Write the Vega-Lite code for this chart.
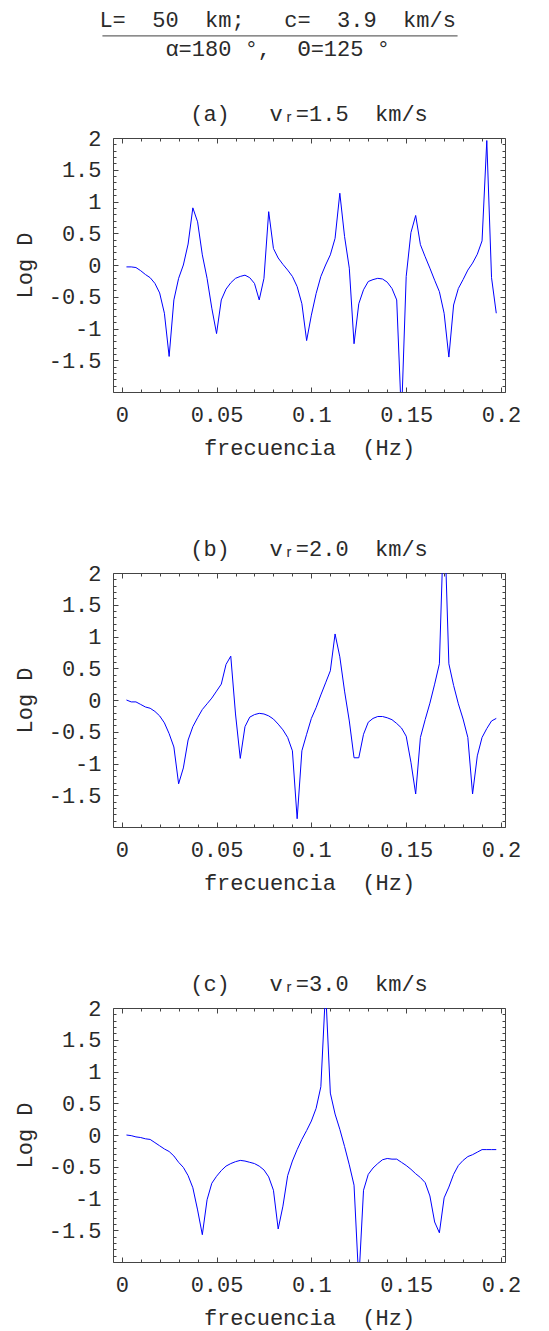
{
  "$schema": "https://vega.github.io/schema/vega-lite/v6.json",
  "background": "white",
  "padding": {"left": 12, "top": 0, "right": 0, "bottom": 2},
  "config": {
    "view": {"stroke": "#444", "strokeWidth": 1},
    "font": "Liberation Mono",
    "axis": {"labelFont": "Liberation Mono", "labelFontSize": 22, "labelColor": "#2a2a2a", "titleFont": "Liberation Mono", "titleFontSize": 22, "titleFontWeight": "normal", "titleColor": "#2a2a2a", "tickColor": "#444", "tickWidth": 1, "domain": false, "grid": false, "labelOverlap": false, "labelBound": false, "labelFlush": false},
    "title": {"font": "Liberation Mono", "fontSize": 22, "fontWeight": "normal", "color": "#2a2a2a", "offset": 1, "anchor": "middle"}
  },
  "datasets": {
    "a": [
      {"f":0.0025,"d":-0.03},{"f":0.005,"d":-0.03},{"f":0.0075,"d":-0.04},{"f":0.01,"d":-0.09},{"f":0.0125,"d":-0.15},{"f":0.015,"d":-0.2},{"f":0.0175,"d":-0.29},{"f":0.02,"d":-0.44},{"f":0.0225,"d":-0.76},{"f":0.025,"d":-1.44},
      {"f":0.0275,"d":-0.55},{"f":0.03,"d":-0.21},{"f":0.0325,"d":0.0},{"f":0.035,"d":0.33},{"f":0.0375,"d":0.9},{"f":0.04,"d":0.68},{"f":0.0425,"d":0.16},{"f":0.045,"d":-0.21},{"f":0.0475,"d":-0.68},{"f":0.05,"d":-1.08},
      {"f":0.0525,"d":-0.55},{"f":0.055,"d":-0.38},{"f":0.0575,"d":-0.28},{"f":0.06,"d":-0.21},{"f":0.0625,"d":-0.18},{"f":0.065,"d":-0.16},{"f":0.0675,"d":-0.2},{"f":0.07,"d":-0.29},{"f":0.0725,"d":-0.55},{"f":0.075,"d":-0.21},
      {"f":0.0775,"d":0.84},{"f":0.08,"d":0.26},{"f":0.0825,"d":0.11},{"f":0.085,"d":0.01},{"f":0.0875,"d":-0.08},{"f":0.09,"d":-0.18},{"f":0.0925,"d":-0.34},{"f":0.095,"d":-0.61},{"f":0.0975,"d":-1.19},{"f":0.1,"d":-0.79},
      {"f":0.1025,"d":-0.45},{"f":0.105,"d":-0.18},{"f":0.1075,"d":0.0},{"f":0.11,"d":0.16},{"f":0.1125,"d":0.42},{"f":0.115,"d":1.13},{"f":0.1175,"d":0.45},{"f":0.12,"d":-0.05},{"f":0.1225,"d":-1.24},{"f":0.125,"d":-0.61},
      {"f":0.1275,"d":-0.39},{"f":0.13,"d":-0.26},{"f":0.1325,"d":-0.23},{"f":0.135,"d":-0.21},{"f":0.1375,"d":-0.22},{"f":0.14,"d":-0.27},{"f":0.1425,"d":-0.37},{"f":0.145,"d":-0.55},{"f":0.1475,"d":-2.4},{"f":0.15,"d":-0.18},
      {"f":0.1525,"d":0.51},{"f":0.155,"d":0.78},{"f":0.1575,"d":0.32},{"f":0.16,"d":0.13},{"f":0.1625,"d":-0.05},{"f":0.165,"d":-0.24},{"f":0.1675,"d":-0.42},{"f":0.17,"d":-0.76},{"f":0.1725,"d":-1.45},{"f":0.175,"d":-0.63},
      {"f":0.1775,"d":-0.37},{"f":0.18,"d":-0.23},{"f":0.1825,"d":-0.08},{"f":0.185,"d":0.03},{"f":0.1875,"d":0.17},{"f":0.19,"d":0.38},{"f":0.1925,"d":1.96},{"f":0.195,"d":-0.2},{"f":0.1975,"d":-0.76}
    ],
    "b": [
      {"f":0.0025,"d":0.0},{"f":0.005,"d":-0.03},{"f":0.0075,"d":-0.03},{"f":0.01,"d":-0.07},{"f":0.0125,"d":-0.11},{"f":0.015,"d":-0.13},{"f":0.0175,"d":-0.18},{"f":0.02,"d":-0.25},{"f":0.0225,"d":-0.36},{"f":0.025,"d":-0.53},
      {"f":0.0275,"d":-0.74},{"f":0.03,"d":-1.32},{"f":0.0325,"d":-1.07},{"f":0.035,"d":-0.63},{"f":0.0375,"d":-0.42},{"f":0.04,"d":-0.28},{"f":0.0425,"d":-0.15},{"f":0.045,"d":-0.06},{"f":0.0475,"d":0.03},{"f":0.05,"d":0.14},
      {"f":0.0525,"d":0.25},{"f":0.055,"d":0.56},{"f":0.0575,"d":0.69},{"f":0.06,"d":-0.22},{"f":0.0625,"d":-0.92},{"f":0.065,"d":-0.42},{"f":0.0675,"d":-0.27},{"f":0.07,"d":-0.23},{"f":0.0725,"d":-0.21},{"f":0.075,"d":-0.22},
      {"f":0.0775,"d":-0.25},{"f":0.08,"d":-0.3},{"f":0.0825,"d":-0.38},{"f":0.085,"d":-0.47},{"f":0.0875,"d":-0.59},{"f":0.09,"d":-0.8},{"f":0.0925,"d":-1.87},{"f":0.095,"d":-0.8},{"f":0.0975,"d":-0.54},{"f":0.1,"d":-0.29},
      {"f":0.1025,"d":-0.12},{"f":0.105,"d":0.08},{"f":0.1075,"d":0.27},{"f":0.11,"d":0.46},{"f":0.1125,"d":1.04},{"f":0.115,"d":0.68},{"f":0.1175,"d":0.14},{"f":0.12,"d":-0.33},{"f":0.1225,"d":-0.91},{"f":0.125,"d":-0.91},
      {"f":0.1275,"d":-0.54},{"f":0.13,"d":-0.35},{"f":0.1325,"d":-0.29},{"f":0.135,"d":-0.26},{"f":0.1375,"d":-0.26},{"f":0.14,"d":-0.28},{"f":0.1425,"d":-0.31},{"f":0.145,"d":-0.37},{"f":0.1475,"d":-0.44},{"f":0.15,"d":-0.57},
      {"f":0.1525,"d":-0.98},{"f":0.155,"d":-1.48},{"f":0.1575,"d":-0.59},{"f":0.16,"d":-0.31},{"f":0.1625,"d":-0.05},{"f":0.165,"d":0.25},{"f":0.1675,"d":0.57},{"f":0.17,"d":3.0},{"f":0.1725,"d":0.57},{"f":0.175,"d":0.23},
      {"f":0.1775,"d":-0.06},{"f":0.18,"d":-0.3},{"f":0.1825,"d":-0.59},{"f":0.185,"d":-1.48},{"f":0.1875,"d":-0.88},{"f":0.19,"d":-0.59},{"f":0.1925,"d":-0.45},{"f":0.195,"d":-0.33},{"f":0.1975,"d":-0.29}
    ],
    "c": [
      {"f":0.0025,"d":0.0},{"f":0.005,"d":-0.01},{"f":0.0075,"d":-0.03},{"f":0.01,"d":-0.04},{"f":0.0125,"d":-0.06},{"f":0.015,"d":-0.07},{"f":0.0175,"d":-0.12},{"f":0.02,"d":-0.17},{"f":0.0225,"d":-0.22},{"f":0.025,"d":-0.26},
      {"f":0.0275,"d":-0.33},{"f":0.03,"d":-0.43},{"f":0.0325,"d":-0.51},{"f":0.035,"d":-0.64},{"f":0.0375,"d":-0.83},{"f":0.04,"d":-1.18},{"f":0.0425,"d":-1.57},{"f":0.045,"d":-1.02},{"f":0.0475,"d":-0.76},{"f":0.05,"d":-0.65},
      {"f":0.0525,"d":-0.56},{"f":0.055,"d":-0.49},{"f":0.0575,"d":-0.45},{"f":0.06,"d":-0.42},{"f":0.0625,"d":-0.4},{"f":0.065,"d":-0.41},{"f":0.0675,"d":-0.43},{"f":0.07,"d":-0.45},{"f":0.0725,"d":-0.49},{"f":0.075,"d":-0.55},
      {"f":0.0775,"d":-0.66},{"f":0.08,"d":-0.87},{"f":0.0825,"d":-1.48},{"f":0.085,"d":-1.12},{"f":0.0875,"d":-0.64},{"f":0.09,"d":-0.41},{"f":0.0925,"d":-0.23},{"f":0.095,"d":-0.07},{"f":0.0975,"d":0.07},{"f":0.1,"d":0.22},
      {"f":0.1025,"d":0.42},{"f":0.105,"d":0.76},{"f":0.1075,"d":2.3},{"f":0.11,"d":0.66},{"f":0.1125,"d":0.33},{"f":0.115,"d":0.09},{"f":0.1175,"d":-0.18},{"f":0.12,"d":-0.47},{"f":0.1225,"d":-0.79},{"f":0.125,"d":-2.3},
      {"f":0.1275,"d":-0.87},{"f":0.13,"d":-0.62},{"f":0.1325,"d":-0.52},{"f":0.135,"d":-0.45},{"f":0.1375,"d":-0.39},{"f":0.14,"d":-0.37},{"f":0.1425,"d":-0.38},{"f":0.145,"d":-0.38},{"f":0.1475,"d":-0.43},{"f":0.15,"d":-0.48},
      {"f":0.1525,"d":-0.54},{"f":0.155,"d":-0.61},{"f":0.1575,"d":-0.67},{"f":0.16,"d":-0.75},{"f":0.1625,"d":-0.96},{"f":0.165,"d":-1.37},{"f":0.1675,"d":-1.54},{"f":0.17,"d":-0.99},{"f":0.1725,"d":-0.82},{"f":0.175,"d":-0.62},
      {"f":0.1775,"d":-0.48},{"f":0.18,"d":-0.4},{"f":0.1825,"d":-0.34},{"f":0.185,"d":-0.31},{"f":0.1875,"d":-0.27},{"f":0.19,"d":-0.23},{"f":0.1925,"d":-0.23},{"f":0.195,"d":-0.23},{"f":0.1975,"d":-0.23}
    ]
  },
  "spacing": 40,
  "vconcat": [
    {
      "width": 392, "height": 62,
      "data": {"values": [{}]},
      "view": {"stroke": null},
      "layer": [
        {"mark": {"type": "text", "font": "Liberation Mono", "fontSize": 22, "baseline": "alphabetic", "align": "center", "color": "#2a2a2a", "text": "L=\u00a0\u00a050\u00a0\u00a0km;\u00a0\u00a0\u00a0c=\u00a0\u00a03.9\u00a0\u00a0km/s"},
         "encoding": {"x": {"datum": 0.42, "type": "quantitative", "scale": {"domain": [0, 1]}, "axis": null}, "y": {"datum": 0.565, "type": "quantitative", "scale": {"domain": [0, 1]}, "axis": null}}},
        {"mark": {"type": "text", "font": "Liberation Mono", "fontSize": 22, "baseline": "alphabetic", "align": "center", "color": "#2a2a2a", "text": "α=180\u00a0°,\u00a0\u00a0Θ=125\u00a0°"},
         "encoding": {"x": {"datum": 0.42, "type": "quantitative"}, "y": {"datum": 0.097, "type": "quantitative"}}},
        {"mark": {"type": "rule", "color": "#666", "strokeWidth": 1.2},
         "encoding": {"x": {"datum": -0.027, "type": "quantitative"}, "x2": {"datum": 0.879}, "y": {"datum": 0.42, "type": "quantitative"}}}
      ]
    },
    {
      "spacing": 78,
      "vconcat": [
        {
          "width": 392, "height": 254,
          "title": {"text": "(a)\u00a0\u00a0\u00a0vᵣ=1.5\u00a0\u00a0km/s"},
          "resolve": {"axis": {"x": "independent", "y": "independent"}},
          "layer": [
            {"data": {"name": "a"},
             "mark": {"type": "line", "color": "#0000ff", "strokeWidth": 1, "clip": true},
             "encoding": {
               "x": {"field": "f", "type": "quantitative", "scale": {"domain": [-0.0046, 0.2021], "nice": false, "zero": false},
                     "axis": {"orient": "bottom", "title": "frecuencia\u00a0\u00a0(Hz)", "values": [0,0.01,0.02,0.03,0.04,0.05,0.06,0.07,0.08,0.09,0.1,0.11,0.12,0.13,0.14,0.15,0.16,0.17,0.18,0.19,0.2], "labelExpr": "round(datum.value*100) % 5 == 0 ? '' + datum.value : ''", "tickSize": {"condition": {"test": "round(datum.value*100) % 5 == 0", "value": -5}, "value": -3}, "labelPadding": 17, "titlePadding": 10}},
               "y": {"field": "d", "type": "quantitative", "scale": {"domain": [-2, 2], "nice": false, "zero": false},
                     "axis": {"orient": "left", "title": "Log\u00a0D", "values": [-2,-1.9,-1.8,-1.7,-1.6,-1.5,-1.4,-1.3,-1.2,-1.1,-1,-0.9,-0.8,-0.7,-0.6,-0.5,-0.4,-0.3,-0.2,-0.1,0,0.1,0.2,0.3,0.4,0.5,0.6,0.7,0.8,0.9,1,1.1,1.2,1.3,1.4,1.5,1.6,1.7,1.8,1.9,2], "labelExpr": "round(datum.value*10) % 5 == 0 && datum.value > -1.95 ? '' + datum.value : ''", "tickSize": {"condition": {"test": "round(datum.value*10) % 5 == 0", "value": -5}, "value": -3}, "labelPadding": 17, "titlePadding": 12}}
             }},
            {"mark": {"type": "rule", "color": "#555", "strokeWidth": 1.3},
             "encoding": {
               "x": {"datum": -0.0046, "type": "quantitative",
                     "axis": {"orient": "top", "title": null, "labels": false, "values": [0,0.01,0.02,0.03,0.04,0.05,0.06,0.07,0.08,0.09,0.1,0.11,0.12,0.13,0.14,0.15,0.16,0.17,0.18,0.19,0.2], "tickSize": {"condition": {"test": "round(datum.value*100) % 5 == 0", "value": -5}, "value": -3}}},
               "x2": {"datum": 0.2021},
               "y": {"datum": 0, "type": "quantitative",
                     "axis": {"orient": "right", "title": null, "labels": false, "values": [-2,-1.9,-1.8,-1.7,-1.6,-1.5,-1.4,-1.3,-1.2,-1.1,-1,-0.9,-0.8,-0.7,-0.6,-0.5,-0.4,-0.3,-0.2,-0.1,0,0.1,0.2,0.3,0.4,0.5,0.6,0.7,0.8,0.9,1,1.1,1.2,1.3,1.4,1.5,1.6,1.7,1.8,1.9,2], "tickSize": {"condition": {"test": "round(datum.value*10) % 5 == 0", "value": -5}, "value": -3}}}
             }}
          ]
        },
        {
          "width": 392, "height": 254,
          "title": {"text": "(b)\u00a0\u00a0\u00a0vᵣ=2.0\u00a0\u00a0km/s"},
          "resolve": {"axis": {"x": "independent", "y": "independent"}},
          "layer": [
            {"data": {"name": "b"},
             "mark": {"type": "line", "color": "#0000ff", "strokeWidth": 1, "clip": true},
             "encoding": {
               "x": {"field": "f", "type": "quantitative", "scale": {"domain": [-0.0046, 0.2021], "nice": false, "zero": false},
                     "axis": {"orient": "bottom", "title": "frecuencia\u00a0\u00a0(Hz)", "values": [0,0.01,0.02,0.03,0.04,0.05,0.06,0.07,0.08,0.09,0.1,0.11,0.12,0.13,0.14,0.15,0.16,0.17,0.18,0.19,0.2], "labelExpr": "round(datum.value*100) % 5 == 0 ? '' + datum.value : ''", "tickSize": {"condition": {"test": "round(datum.value*100) % 5 == 0", "value": -5}, "value": -3}, "labelPadding": 17, "titlePadding": 10}},
               "y": {"field": "d", "type": "quantitative", "scale": {"domain": [-2, 2], "nice": false, "zero": false},
                     "axis": {"orient": "left", "title": "Log\u00a0D", "values": [-2,-1.9,-1.8,-1.7,-1.6,-1.5,-1.4,-1.3,-1.2,-1.1,-1,-0.9,-0.8,-0.7,-0.6,-0.5,-0.4,-0.3,-0.2,-0.1,0,0.1,0.2,0.3,0.4,0.5,0.6,0.7,0.8,0.9,1,1.1,1.2,1.3,1.4,1.5,1.6,1.7,1.8,1.9,2], "labelExpr": "round(datum.value*10) % 5 == 0 && datum.value > -1.95 ? '' + datum.value : ''", "tickSize": {"condition": {"test": "round(datum.value*10) % 5 == 0", "value": -5}, "value": -3}, "labelPadding": 17, "titlePadding": 12}}
             }},
            {"mark": {"type": "rule", "color": "#555", "strokeWidth": 1.3},
             "encoding": {
               "x": {"datum": -0.0046, "type": "quantitative",
                     "axis": {"orient": "top", "title": null, "labels": false, "values": [0,0.01,0.02,0.03,0.04,0.05,0.06,0.07,0.08,0.09,0.1,0.11,0.12,0.13,0.14,0.15,0.16,0.17,0.18,0.19,0.2], "tickSize": {"condition": {"test": "round(datum.value*100) % 5 == 0", "value": -5}, "value": -3}}},
               "x2": {"datum": 0.2021},
               "y": {"datum": 0, "type": "quantitative",
                     "axis": {"orient": "right", "title": null, "labels": false, "values": [-2,-1.9,-1.8,-1.7,-1.6,-1.5,-1.4,-1.3,-1.2,-1.1,-1,-0.9,-0.8,-0.7,-0.6,-0.5,-0.4,-0.3,-0.2,-0.1,0,0.1,0.2,0.3,0.4,0.5,0.6,0.7,0.8,0.9,1,1.1,1.2,1.3,1.4,1.5,1.6,1.7,1.8,1.9,2], "tickSize": {"condition": {"test": "round(datum.value*10) % 5 == 0", "value": -5}, "value": -3}}}
             }}
          ]
        },
        {
          "width": 392, "height": 254,
          "title": {"text": "(c)\u00a0\u00a0\u00a0vᵣ=3.0\u00a0\u00a0km/s"},
          "resolve": {"axis": {"x": "independent", "y": "independent"}},
          "layer": [
            {"data": {"name": "c"},
             "mark": {"type": "line", "color": "#0000ff", "strokeWidth": 1, "clip": true},
             "encoding": {
               "x": {"field": "f", "type": "quantitative", "scale": {"domain": [-0.0046, 0.2021], "nice": false, "zero": false},
                     "axis": {"orient": "bottom", "title": "frecuencia\u00a0\u00a0(Hz)", "values": [0,0.01,0.02,0.03,0.04,0.05,0.06,0.07,0.08,0.09,0.1,0.11,0.12,0.13,0.14,0.15,0.16,0.17,0.18,0.19,0.2], "labelExpr": "round(datum.value*100) % 5 == 0 ? '' + datum.value : ''", "tickSize": {"condition": {"test": "round(datum.value*100) % 5 == 0", "value": -5}, "value": -3}, "labelPadding": 17, "titlePadding": 10}},
               "y": {"field": "d", "type": "quantitative", "scale": {"domain": [-2, 2], "nice": false, "zero": false},
                     "axis": {"orient": "left", "title": "Log\u00a0D", "values": [-2,-1.9,-1.8,-1.7,-1.6,-1.5,-1.4,-1.3,-1.2,-1.1,-1,-0.9,-0.8,-0.7,-0.6,-0.5,-0.4,-0.3,-0.2,-0.1,0,0.1,0.2,0.3,0.4,0.5,0.6,0.7,0.8,0.9,1,1.1,1.2,1.3,1.4,1.5,1.6,1.7,1.8,1.9,2], "labelExpr": "round(datum.value*10) % 5 == 0 && datum.value > -1.95 ? '' + datum.value : ''", "tickSize": {"condition": {"test": "round(datum.value*10) % 5 == 0", "value": -5}, "value": -3}, "labelPadding": 17, "titlePadding": 12}}
             }},
            {"mark": {"type": "rule", "color": "#555", "strokeWidth": 1.3},
             "encoding": {
               "x": {"datum": -0.0046, "type": "quantitative",
                     "axis": {"orient": "top", "title": null, "labels": false, "values": [0,0.01,0.02,0.03,0.04,0.05,0.06,0.07,0.08,0.09,0.1,0.11,0.12,0.13,0.14,0.15,0.16,0.17,0.18,0.19,0.2], "tickSize": {"condition": {"test": "round(datum.value*100) % 5 == 0", "value": -5}, "value": -3}}},
               "x2": {"datum": 0.2021},
               "y": {"datum": 0, "type": "quantitative",
                     "axis": {"orient": "right", "title": null, "labels": false, "values": [-2,-1.9,-1.8,-1.7,-1.6,-1.5,-1.4,-1.3,-1.2,-1.1,-1,-0.9,-0.8,-0.7,-0.6,-0.5,-0.4,-0.3,-0.2,-0.1,0,0.1,0.2,0.3,0.4,0.5,0.6,0.7,0.8,0.9,1,1.1,1.2,1.3,1.4,1.5,1.6,1.7,1.8,1.9,2], "tickSize": {"condition": {"test": "round(datum.value*10) % 5 == 0", "value": -5}, "value": -3}}}
             }}
          ]
        }
      ]
    }
  ]
}
